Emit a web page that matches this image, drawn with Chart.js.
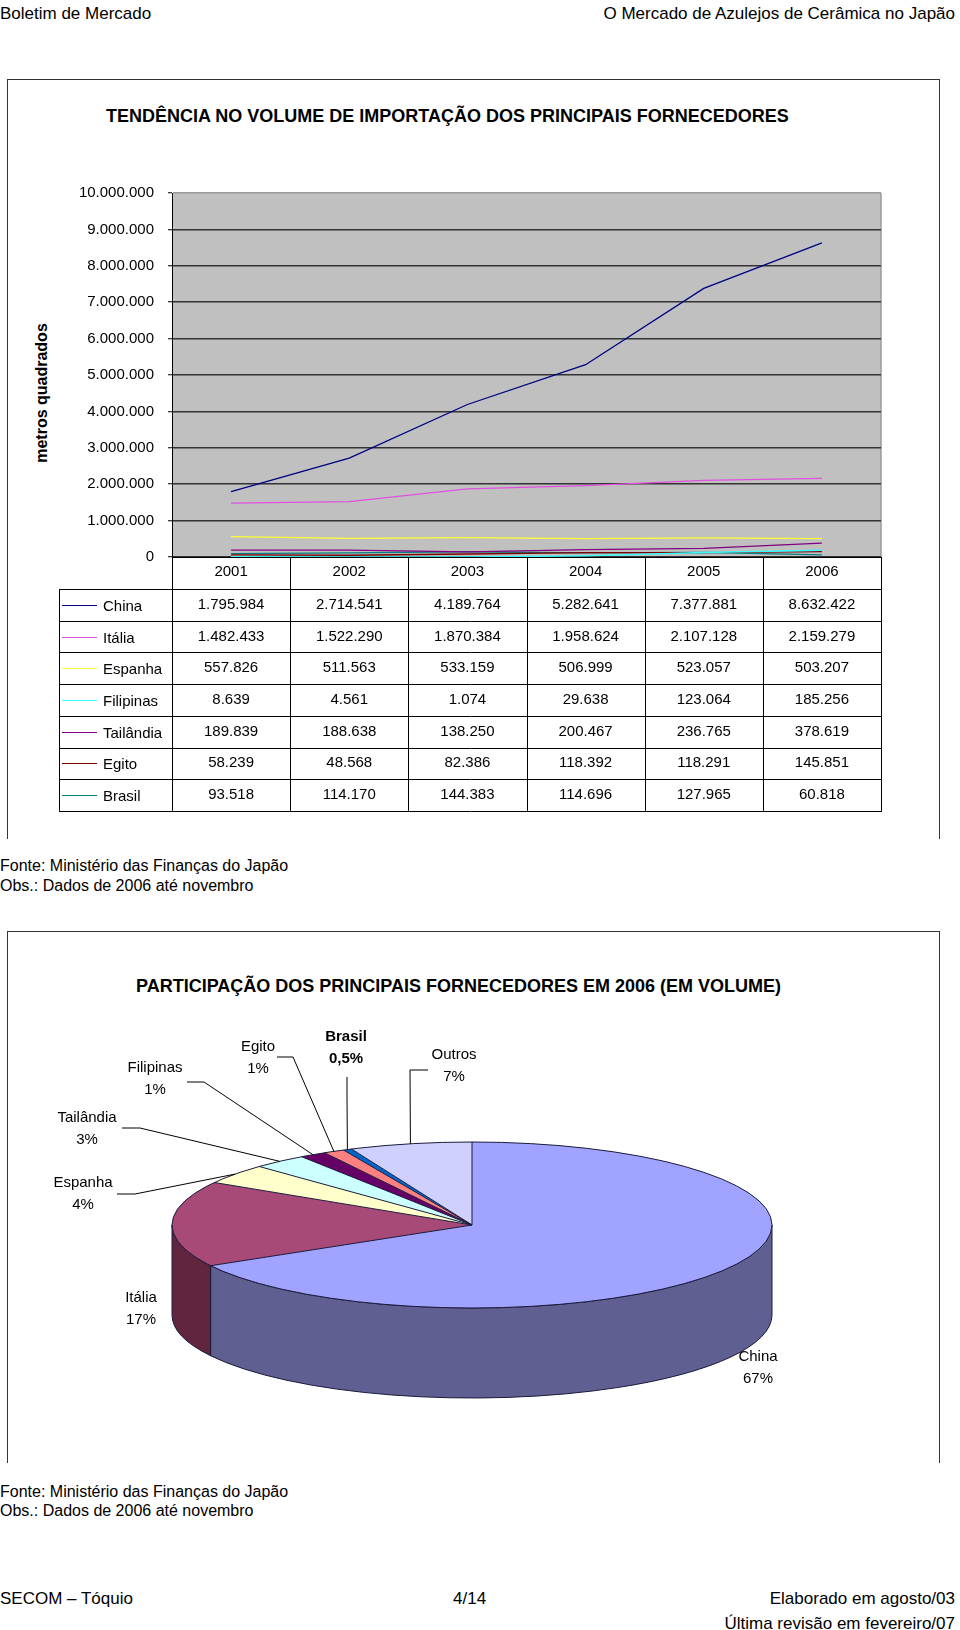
<!DOCTYPE html>
<html>
<head>
<meta charset="utf-8">
<script src="https://cdn.jsdelivr.net/npm/chart.js@4.4.1/dist/chart.umd.min.js"></script>
<style>
  body { margin: 0; width: 960px; height: 1630px; position: relative; overflow: hidden; background: #fff;
         font-family: "Liberation Sans", Arial, sans-serif; color: #000; }
  .t { position: absolute; white-space: nowrap; line-height: 1; }
  .box { position: absolute; border: 1.5px solid #333; border-bottom: none; }
  canvas { position: absolute; }
</style>
</head>
<body>

<div class="t" style="left:0;top:5px;font-size:17px">Boletim de Mercado</div>
<div class="t" style="right:5px;top:5px;font-size:17px">O Mercado de Azulejos de Cerâmica no Japão</div>

<div class="box" style="left:7px;top:79px;width:931px;height:759px"></div>
<div class="t" style="left:106px;top:107px;font-size:18px;font-weight:bold">TENDÊNCIA NO VOLUME DE IMPORTAÇÃO DOS PRINCIPAIS FORNECEDORES</div>
<div class="t" style="left:-58px;top:384px;width:200px;text-align:center;line-height:18px;font-size:16px;font-weight:bold;transform:rotate(-90deg)">metros quadrados</div>
<canvas id="lineChart" width="940" height="650" style="left:0;top:170px"></canvas>

<div class="t" style="left:0;top:858px;font-size:16px">Fonte: Ministério das Finanças do Japão</div>
<div class="t" style="left:0;top:878px;font-size:16px">Obs.: Dados de 2006 até novembro</div>

<div class="box" style="left:7px;top:931px;width:931px;height:531px"></div>
<div class="t" style="left:136px;top:977px;font-size:18px;font-weight:bold">PARTICIPAÇÃO DOS PRINCIPAIS FORNECEDORES EM 2006 (EM VOLUME)</div>
<canvas id="pieChart" width="944" height="450" style="left:0;top:1000px"></canvas>

<div class="t" style="left:0;top:1484px;font-size:16px">Fonte: Ministério das Finanças do Japão</div>
<div class="t" style="left:0;top:1503px;font-size:16px">Obs.: Dados de 2006 até novembro</div>

<div class="t" style="left:0;top:1590px;font-size:17px">SECOM – Tóquio</div>
<div class="t" style="left:453px;top:1590px;font-size:17px">4/14</div>
<div class="t" style="right:5px;top:1590px;font-size:17px">Elaborado em agosto/03</div>
<div class="t" style="right:5px;top:1615px;font-size:17px">Última revisão em fevereiro/07</div>

<script>
// Dados - volume de importação (m2)

const years = ["2001", "2002", "2003", "2004", "2005", "2006"];
const china = [1795984, 2714541, 4189764, 5282641, 7377881, 8632422];
const italia = [1482433, 1522290, 1870384, 1958624, 2107128, 2159279];
const espanha = [557826, 511563, 533159, 506999, 523057, 503207];
const filipinas = [8639, 4561, 1074, 29638, 123064, 185256];
const tailandia = [189839, 188638, 138250, 200467, 236765, 378619];
const egito = [58239, 48568, 82386, 118392, 118291, 145851];
const brasil = [93518, 114170, 144383, 114696, 127965, 60818];
const yMax = 10000000;
const yStep = 1000000;

// Participação 2006
const pieLabels = ["China", "Itália", "Espanha", "Tailândia", "Filipinas", "Egito", "Brasil", "Outros"];
const pieValues = [8632422, 2159279, 503207, 378619, 185256, 145851, 60818, 850000];

const FONT = "'Liberation Sans', Arial, sans-serif";
const fmt = (v) => String(v).replace(/\B(?=(\d{3})+(?!\d))/g, ".");

// Line Chart

const series = [
  { label: "China", data: china, color: "#000080" },
  { label: "Itália", data: italia, color: "#e050e0" },
  { label: "Espanha", data: espanha, color: "#ffff33" },
  { label: "Filipinas", data: filipinas, color: "#33ffff" },
  { label: "Tailândia", data: tailandia, color: "#800080" },
  { label: "Egito", data: egito, color: "#800000" },
  { label: "Brasil", data: brasil, color: "#008080" },
];

const plotBg = {
  id: "plotBg",
  beforeDraw(chart) {
    const { ctx, chartArea: a } = chart;
    ctx.save();
    ctx.fillStyle = "#c0c0c0";
    ctx.fillRect(a.left, a.top, a.right - a.left, a.bottom - a.top);
    ctx.strokeStyle = "#9a9a9a";
    ctx.lineWidth = 1.5;
    ctx.beginPath();
    ctx.moveTo(a.right, a.top);
    ctx.lineTo(a.right, a.bottom);
    ctx.stroke();
    ctx.restore();
  },
};

// data table under the plot, columns taken from the x scale
const dataTable = {
  id: "dataTable",
  afterDraw(chart) {
    const { ctx, chartArea: a } = chart;
    const x = chart.scales.x;
    const half = (x.getPixelForValue(1) - x.getPixelForValue(0)) / 2;
    const headBottom = a.bottom + 32;
    const rowH = 31.7;
    const legendLeft = 59;
    const tableBottom = headBottom + rowH * series.length;

    ctx.save();
    ctx.strokeStyle = "#000";
    ctx.lineWidth = 1;
    ctx.beginPath();
    for (let i = 0; i <= years.length; i++) {
      const bx = Math.round(x.getPixelForValue(0) - half + i * half * 2) + 0.5;
      ctx.moveTo(bx, a.bottom);
      ctx.lineTo(bx, tableBottom);
    }
    ctx.moveTo(legendLeft + 0.5, headBottom);
    ctx.lineTo(legendLeft + 0.5, tableBottom);
    for (let r = 0; r <= series.length; r++) {
      const y = Math.round(headBottom + r * rowH) + 0.5;
      ctx.moveTo(legendLeft, y);
      ctx.lineTo(a.right + 1, y);
    }
    ctx.stroke();

    ctx.font = "15px " + FONT;
    ctx.textBaseline = "middle";
    series.forEach((s, r) => {
      const cy = headBottom + r * rowH + rowH / 2;
      ctx.strokeStyle = s.color;
      ctx.beginPath();
      ctx.moveTo(legendLeft + 3, Math.round(cy) + 0.5);
      ctx.lineTo(legendLeft + 38, Math.round(cy) + 0.5);
      ctx.stroke();
      ctx.fillStyle = "#000";
      ctx.textAlign = "left";
      ctx.fillText(s.label, legendLeft + 44, cy + 2);
      ctx.textAlign = "center";
      s.data.forEach((v, i) => {
        ctx.fillText(fmt(v), x.getPixelForValue(i), cy);
      });
    });
    ctx.restore();
  },
};

new Chart(document.getElementById("lineChart"), {
  type: "line",
  data: {
    labels: years,
    datasets: series.map((s) => ({
      label: s.label,
      data: s.data,
      borderColor: s.color,
      borderWidth: 1.3,
      pointRadius: 0,
      fill: false,
      tension: 0,
    })),
  },
  options: {
    responsive: false,
    animation: false,
    layout: { padding: { top: 23, right: 59, left: 0, bottom: 0 } },
    plugins: { legend: { display: false }, tooltip: { enabled: false } },
    scales: {
      x: {
        offset: true,
        grid: { display: false, drawTicks: false },
        border: { display: true, color: "#000", width: 1 },
        ticks: { color: "#000", font: { size: 15, family: FONT }, padding: 6 },
        afterFit: (s) => { s.height = 263; },
      },
      y: {
        min: 0,
        max: yMax,
        ticks: {
          stepSize: yStep,
          color: "#000",
          font: { size: 15, family: FONT },
          padding: 14,
          callback: (v) => fmt(v),
        },
        grid: {
          color: (c) => (c.tick && c.tick.value === yMax ? "#9a9a9a" : "#333"),
          lineWidth: 1.5,
          tickLength: 4,
          tickColor: "#000",
          tickWidth: 1,
        },
        border: { color: "#000", width: 1 },
        afterFit: (s) => { s.width = 172; },
      },
    },
  },
  plugins: [plotBg, dataTable],
});

// Pie Chart (3D look)

const pieColors = ["#a0a3ff", "#a84a78", "#ffffcc", "#ccffff", "#660066", "#ff8080", "#0066cc", "#d0d0ff"];
const pieWalls = ["#5f5f92", "#62253f", "#99997a", "#7a9999", "#3d003d", "#994d4d", "#003d7a", "#7a7a99"];
const pieTilt = 83 / 300;
const pieDepth = 90;
const labelPos = [[758, 357], [141, 298], [83, 183], [87, 118], [155, 68], [258, 47], [346, 37], [454, 55]];
const leaderElbow = [null, null,
  [[117, 194], [135, 194]], [[122, 128], [140, 128]], [[187, 82], [204, 82]],
  [[277, 57], [293, 57]], [[347, 77], [347, 95]], [[428, 70], [410, 70]]];
const pieTotal = pieValues.reduce((s, v) => s + v, 0);
const pct = (v) => {
  const p = (v / pieTotal) * 100;
  return (p < 1 ? p.toFixed(1).replace(".", ",") : Math.round(p)) + "%";
};

const pie3d = {
  id: "pie3d",
  beforeDatasetsDraw(chart) {
    const { ctx } = chart;
    const arcs = chart.getDatasetMeta(0).data;
    const { x: cx, y: cy, outerRadius: r } = arcs[0];
    const b = r * pieTilt;
    ctx.save();
    ctx.lineWidth = 1;
    ctx.strokeStyle = "#1a1a3a";
    arcs.forEach((arc, i) => {
      const s = Math.max(arc.startAngle, 0);
      const e = Math.min(arc.endAngle, Math.PI);
      if (e <= s) return;
      ctx.beginPath();
      ctx.ellipse(cx, cy, r, b, 0, s, e);
      ctx.ellipse(cx, cy + pieDepth, r, b, 0, e, s, true);
      ctx.closePath();
      ctx.fillStyle = pieWalls[i];
      ctx.fill();
      ctx.stroke();
    });
    ctx.restore();
    ctx.save();
    ctx.translate(0, cy);
    ctx.scale(1, pieTilt);
    ctx.translate(0, -cy);
  },
  afterDatasetsDraw(chart) {
    const { ctx } = chart;
    ctx.restore();
    const arcs = chart.getDatasetMeta(0).data;
    const { x: cx, y: cy, outerRadius: r } = arcs[0];
    const b = r * pieTilt;
    ctx.save();
    ctx.strokeStyle = "#1a1a3a";
    ctx.lineWidth = 1;
    ctx.beginPath();
    ctx.ellipse(cx, cy, r, b, 0, 0, Math.PI * 2);
    arcs.forEach((arc) => {
      ctx.moveTo(cx, cy);
      ctx.lineTo(cx + r * Math.cos(arc.startAngle), cy + b * Math.sin(arc.startAngle));
    });
    ctx.stroke();

    // leader lines
    ctx.strokeStyle = "#000";
    arcs.forEach((arc, i) => {
      const el = leaderElbow[i];
      if (!el) return;
      const m = (arc.startAngle + arc.endAngle) / 2;
      ctx.beginPath();
      ctx.moveTo(el[0][0], el[0][1]);
      ctx.lineTo(el[1][0], el[1][1]);
      ctx.lineTo(cx + r * Math.cos(m), cy + b * Math.sin(m));
      ctx.stroke();
    });

    // labels
    ctx.fillStyle = "#000";
    ctx.textAlign = "center";
    ctx.textBaseline = "middle";
    pieLabels.forEach((name, i) => {
      const [lx, ly] = labelPos[i];
      ctx.font = (name === "Brasil" ? "bold " : "") + "15px " + FONT;
      ctx.fillText(name, lx, ly);
      ctx.fillText(pct(pieValues[i]), lx, ly + 22);
    });
    ctx.restore();
  },
};

new Chart(document.getElementById("pieChart"), {
  type: "pie",
  data: {
    labels: pieLabels,
    datasets: [
      {
        data: pieValues,
        backgroundColor: pieColors,
        borderWidth: 0,
        radius: 300,
        clip: false,
      },
    ],
  },
  options: {
    responsive: false,
    animation: false,
    layout: { padding: 0 },
    plugins: { legend: { display: false }, tooltip: { enabled: false } },
  },
  plugins: [pie3d],
});
</script>
</body>
</html>
